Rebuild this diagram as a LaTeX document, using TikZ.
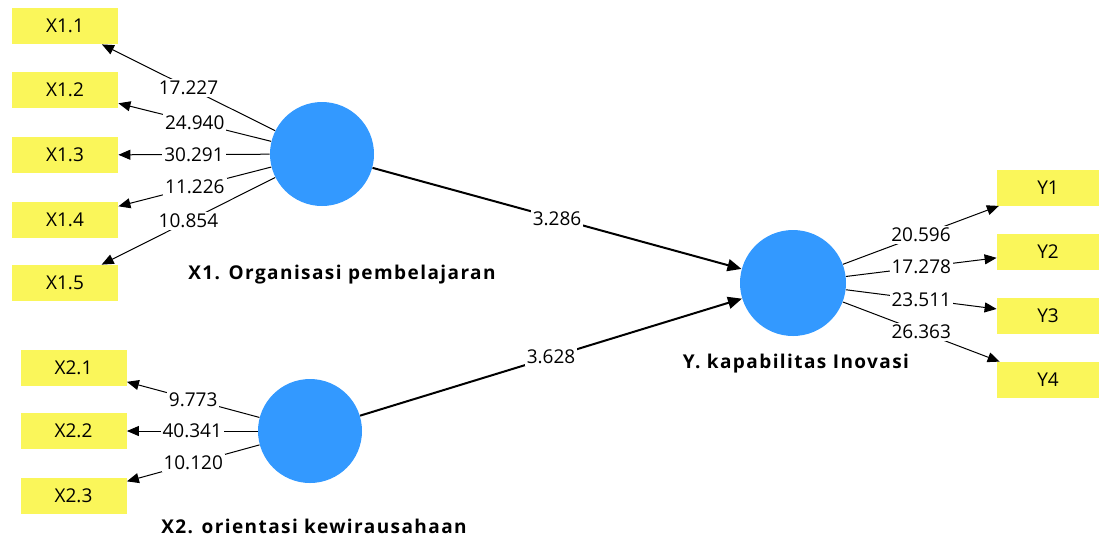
\documentclass[tikz,border=0pt]{standalone}
\usepackage{fontspec}
\setmainfont{Open Sans}
\newfontfamily\latfont[LetterSpace=7.5]{Open Sans}
\usetikzlibrary{arrows.meta}
\definecolor{ind}{RGB}{250,246,90}
\definecolor{lat}{RGB}{51,153,255}
\tikzset{
	ind/.style={fill=ind,minimum width=53pt,minimum height=18pt,inner sep=0pt,font=\fontsize{9.5}{11}\selectfont},
	lat/.style={circle,fill=lat,minimum size=52pt,inner sep=0pt},
	latname/.style={font=\latfont\fontsize{9.5}{11}\selectfont\bfseries},
	load/.style={-{Triangle[length=6pt,width=5pt]},line width=0.5pt},
	path/.style={-{Triangle[length=7pt,width=6pt]},line width=1pt},
	val/.style={midway,fill=white,inner sep=1pt,font=\fontsize{9.5}{11}\selectfont}
}
\begin{document}
\begin{tikzpicture}[x=0.5pt,y=-0.5pt]
	\useasboundingbox (0,0) rectangle (1099,538);
	\node [lat] (X1) at (322,154) {};
	\node [lat] (X2) at (310,431) {};
	\node [lat,minimum size=53pt] (Y) at (793,283) {};
	\node [latname] (X1lab) at (342,275) {X1. Organisasi pembelajaran};
	\node [latname] (X2lab) at (314,526) {X2. orientasi kewirausahaan};
	\node [latname] (Ylab) at (796,364) {Y. kapabilitas Inovasi};

	\node [ind] (x11) at (65,26) {X1.1};
	\node [ind] (x12) at (65,90) {X1.2};
	\node [ind] (x13) at (65,155) {X1.3};
	\node [ind] (x14) at (65,220) {X1.4};
	\node [ind] (x15) at (65,283) {X1.5};
	\node [ind] (x21) at (73.5,367.5) {X2.1};
	\node [ind] (x22) at (73.5,431) {X2.2};
	\node [ind] (x23) at (73.5,496) {X2.3};
	\node [ind,minimum width=51pt] (y1) at (1048,187.5) {Y1};
	\node [ind,minimum width=51pt] (y2) at (1048,251.5) {Y2};
	\node [ind,minimum width=51pt] (y3) at (1048,315.5) {Y3};
	\node [ind,minimum width=51pt] (y4) at (1048,380) {Y4};

	\draw [load] (X1) -- (x11) node [val] {17.227};
	\draw [load] (X1) -- (x12) node [val] {24.940};
	\draw [load] (X1) -- (x13) node [val] {30.291};
	\draw [load] (X1) -- (x14) node [val] {11.226};
	\draw [load] (X1) -- (x15) node [val] {10.854};
	\draw [load] (X2) -- (x21) node [val] {9.773};
	\draw [load] (X2) -- (x22) node [val] {40.341};
	\draw [load] (X2) -- (x23) node [val] {10.120};
	\draw [load] (Y) -- (y1) node [val] {20.596};
	\draw [load] (Y) -- (y2) node [val] {17.278};
	\draw [load] (Y) -- (y3) node [val] {23.511};
	\draw [load] (Y) -- (y4) node [val] {26.363};

	\draw [path] (X1) -- (Y) node [val] {3.286};
	\draw [path] (X2) -- (Y) node [val] {3.628};
\end{tikzpicture}
\end{document}
